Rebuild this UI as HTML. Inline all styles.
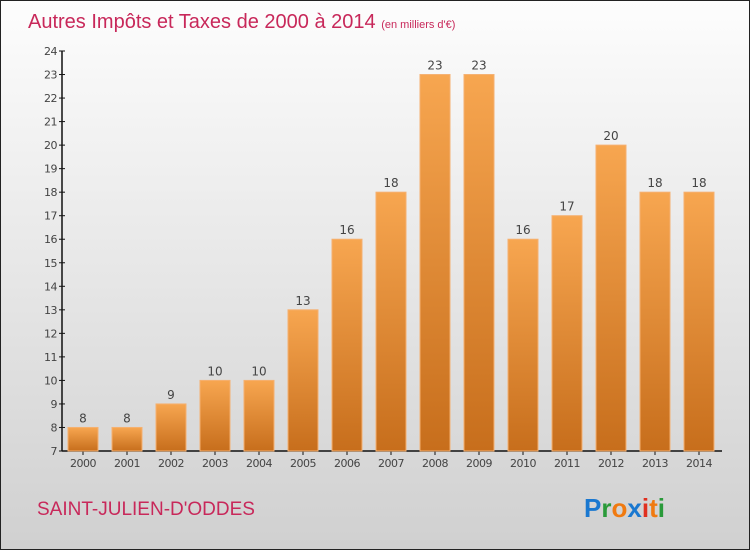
<!DOCTYPE html>
<html><head><meta charset="utf-8"><style>
body{margin:0;}
#wrap{width:750px;height:550px;position:relative;box-sizing:border-box;border:1px solid #222;background:linear-gradient(#fdfdfd,#d0d0d0);font-family:"DejaVu Sans","Liberation Sans",sans-serif;overflow:hidden;}
svg{position:absolute;left:0;top:0;}
</style></head><body>
<div id="wrap">
<svg id="chart" width="750" height="550">
<defs><linearGradient id="bg" x1="0" y1="0" x2="0" y2="1"><stop offset="0" stop-color="#f7a650"/><stop offset="1" stop-color="#c76e1c"/></linearGradient></defs>
<text x="27" y="27" font-size="20" fill="#c8285a" font-family="Liberation Sans, sans-serif">Autres Impôts et Taxes de 2000 à 2014 <tspan font-size="11">(en milliers d'€)</tspan></text>
<text x="36" y="514" font-size="19" fill="#c8285a" font-family="Liberation Sans, sans-serif">SAINT-JULIEN-D'ODDES</text>
<g font-family="Liberation Sans, sans-serif" font-size="26" font-weight="bold"><text x="583" y="516"><tspan fill="#1a78d0">P</tspan><tspan fill="#2a9a3a">r</tspan><tspan fill="#f07a10">o</tspan><tspan fill="#1a78d0">x</tspan><tspan fill="#e03020">i</tspan><tspan fill="#f07a10">t</tspan><tspan fill="#2a9a3a">i</tspan></text></g>
</svg>
</div>
<script>
const years=["2000","2001","2002","2003","2004","2005","2006","2007","2008","2009","2010","2011","2012","2013","2014"];
const values=[8,8,9,10,10,13,16,18,23,23,16,17,20,18,18];
const yTicks=[7,8,9,10,11,12,13,14,15,16,17,18,19,20,21,22,23,24];
const svg=document.getElementById('chart');const NS='http://www.w3.org/2000/svg';
const y0=450,y1=50,vmin=7,vmax=24;
const yS=v=>y0-(v-vmin)/(vmax-vmin)*(y0-y1);
const xS=i=>82+i*44;
function mk(t,a,p){const e=document.createElementNS(NS,t);for(const k in a)e.setAttribute(k,a[k]);(p||svg).appendChild(e);return e;}
const ax=mk('g',{});


mk('line',{x1:61,y1:y1,x2:61,y2:y0,stroke:'#111','stroke-width':1.5},ax);
mk('line',{x1:61,y1:y0,x2:721,y2:y0,stroke:'#111','stroke-width':1.5},ax);
yTicks.forEach(v=>{const y=yS(v);mk('line',{x1:58,y1:y,x2:64,y2:y,stroke:'#111'},ax);
const t=mk('text',{x:56,y:y+4,'text-anchor':'end','font-size':11,fill:'#444','letter-spacing':'-0.5'},ax);t.textContent=v;

});
years.forEach((yr,i)=>{const x=xS(i),v=values[i];
const r=mk('rect',{x:x-15,y:yS(v),width:30,height:y0-yS(v),fill:'url(#bg)',stroke:'#f5b070','stroke-width':1});


mk('line',{x1:x,y1:y0,x2:x,y2:y0+4,stroke:'#111'},ax);
const l=mk('text',{x:x,y:y0+16,'text-anchor':'middle','font-size':11,fill:'#444','letter-spacing':'-0.5'});l.textContent=yr;


const vl=mk('text',{x:x,y:yS(v)-5,'text-anchor':'middle','font-size':12,fill:'#444'});vl.textContent=v;

});
</script>
</body></html>
